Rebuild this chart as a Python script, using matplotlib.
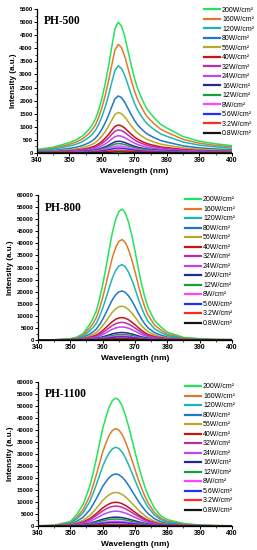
import numpy as np
import matplotlib
matplotlib.use("Agg")
import matplotlib.pyplot as plt
from matplotlib.ticker import AutoMinorLocator

plt.rcParams['font.family'] = ['Liberation Sans', 'DejaVu Sans']

# power densities (legend order, top to bottom)
labels = ["200W/cm²", "160W/cm²", "120W/cm²", "80W/cm²", "56W/cm²", "40W/cm²",
          "32W/cm²", "24W/cm²", "16W/cm²", "12W/cm²", "8W/cm²", "5.6W/cm²",
          "3.2W/cm²", "0.8W/cm²"]
colors = ["#22e35a", "#e07a2a", "#1fb5b8", "#1f77c8", "#b5a82a", "#c81414",
          "#c02ca8", "#c045f5", "#25289a", "#14a03c", "#ff45ff", "#1e32ff",
          "#ff2828", "#141414"]

# wavelength sample points (nm)
wl = [340, 345, 350, 352, 354, 356, 357, 358, 359, 360, 361, 362, 363, 364, 365,
      366, 367, 368, 369, 370, 371, 372, 373, 374, 376, 378, 380, 385, 390, 395, 400]

# normalised emission profiles
shape_500 = [0.027, 0.044, 0.08, 0.10, 0.13, 0.18, 0.215, 0.26, 0.33, 0.42, 0.53,
             0.66, 0.81, 0.95, 1.0, 0.97, 0.89, 0.78, 0.67, 0.57, 0.49, 0.43,
             0.375, 0.33, 0.27, 0.22, 0.19, 0.125, 0.09, 0.07, 0.056]
shape_800 = [0.0, 0.002, 0.01, 0.022, 0.05, 0.12, 0.165, 0.22, 0.31, 0.42, 0.55,
             0.69, 0.82, 0.92, 0.98, 1.0, 0.97, 0.90, 0.80, 0.68, 0.55, 0.43,
             0.33, 0.25, 0.15, 0.10, 0.06, 0.02, 0.01, 0.005, 0.004]
shape_1100 = [0.002, 0.006, 0.035, 0.09, 0.17, 0.31, 0.41, 0.52, 0.64, 0.76, 0.85,
              0.93, 0.98, 1.0, 0.985, 0.94, 0.87, 0.78, 0.68, 0.58, 0.48, 0.39,
              0.31, 0.24, 0.14, 0.08, 0.05, 0.02, 0.008, 0.004, 0.002]

# peak intensities (a.u.)
peaks_500 = [5000, 4150, 3330, 2180, 1550, 1070, 880, 660, 450, 360, 270, 190, 110, 40]
peaks_800 = [54200, 41600, 31200, 20300, 14000, 9300, 7300, 5400, 3100, 2300, 1700, 1300, 800, 300]
peaks_1100 = [53300, 40600, 32800, 21700, 14000, 9900, 8300, 6200, 3700, 2900, 2000, 1500, 800, 250]

panels = [
    ("PH-500", shape_500, peaks_500, 5500, 500, [37, 9, 232, 153], 0.856, 1.015),
    ("PH-800", shape_800, peaks_800, 60000, 5000, [38, 195, 232, 340], 0.758, 0.99),
    ("PH-1100", shape_1100, peaks_1100, 60000, 5000, [38, 382, 232, 526], 0.758, 0.99),
]

W, H = 257, 550
fig = plt.figure(figsize=(W / 100, H / 100), dpi=100)

for name, shape, peaks, ymax, ystep, box, legx, legy in panels:
    x0, y0, x1, y1 = box
    ax = fig.add_axes([x0 / W, 1 - y1 / H, (x1 - x0) / W, (y1 - y0) / H])
    prof = np.array(shape)
    for lab, c, p in zip(labels, colors, peaks):
        ax.plot(wl, p * prof, color=c, lw=1.1, label=lab)

    ax.set_xlim(340, 400)
    ax.set_ylim(0, ymax)
    ax.set_xticks(range(340, 401, 10))
    ax.set_yticks(range(0, ymax + 1, ystep))
    ax.yaxis.set_minor_locator(AutoMinorLocator(2))
    ax.xaxis.set_minor_locator(AutoMinorLocator(2))
    ax.spines['top'].set_visible(False)
    ax.spines['right'].set_visible(False)
    ax.spines['left'].set_linewidth(0.9)
    ax.spines['bottom'].set_linewidth(0.9)
    ax.tick_params(which='major', direction='out', length=2, width=0.7, pad=1)
    ax.tick_params(which='minor', direction='out', length=1.2, width=0.5)
    ax.tick_params(axis='y', labelsize=4.3)
    ax.tick_params(axis='x', labelsize=5)
    for t in ax.get_xticklabels() + ax.get_yticklabels():
        t.set_fontweight('bold')

    ax.set_xlabel("Wavelength (nm)", fontsize=6, fontweight='bold', labelpad=2.5)
    ax.set_ylabel("Intensity (a.u.)", fontsize=5.8, fontweight='bold', labelpad=2)

    ax.text(0.036, 0.955, name, transform=ax.transAxes, ha='left', va='top',
            fontsize=8.3, fontweight='bold', family=['Liberation Serif', 'DejaVu Serif'])

    leg = ax.legend(loc='upper left', bbox_to_anchor=(legx, legy), frameon=False,
                    fontsize=5, handlelength=2.3, handletextpad=0.3,
                    labelspacing=0.36, borderpad=0, borderaxespad=0)
    for ln in leg.get_lines():
        ln.set_linewidth(1.6)

fig.savefig("out.png", dpi=100)
